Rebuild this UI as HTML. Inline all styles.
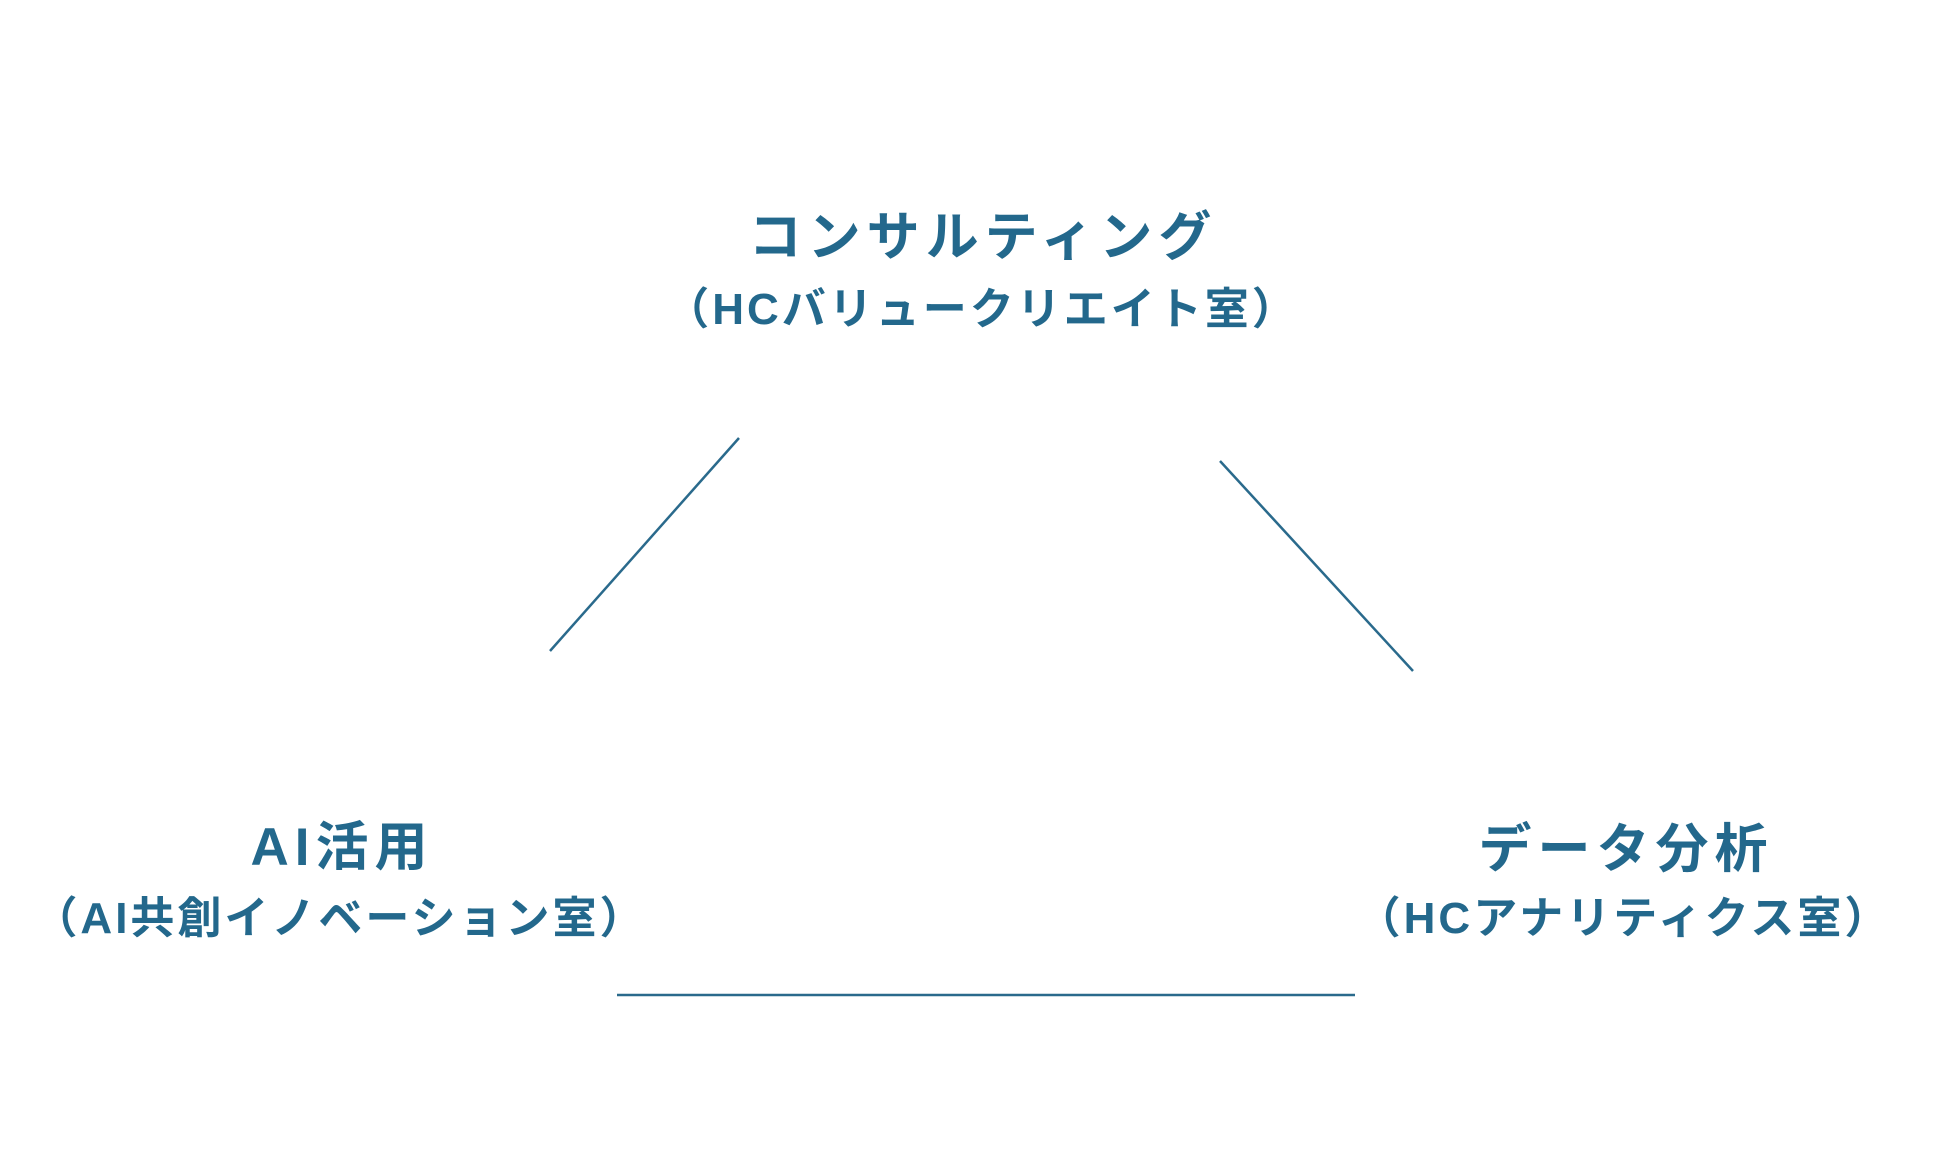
<!DOCTYPE html>
<html><head><meta charset="utf-8"><style>
html,body{margin:0;padding:0;background:#fff;width:1936px;height:1158px;overflow:hidden}
.t{position:absolute;transform:translate(-50%,-50%);white-space:nowrap;color:#23688c;font-weight:bold;font-family:"Liberation Sans","Noto Sans CJK JP",sans-serif;text-align:center}
.h{font-size:53px;letter-spacing:6px}
.s{font-size:44px;letter-spacing:3px}
</style></head><body>
<svg width="1936" height="1158" style="position:absolute;left:0;top:0">
<g stroke="#2a6a8c" stroke-width="2.5" fill="none">
<line x1="739" y1="438" x2="550" y2="651"/>
<line x1="1220" y1="461" x2="1413" y2="671"/>
<line x1="617" y1="995" x2="1355" y2="995"/>
</g></svg>
<div class="t h" style="left:983px;top:233px">コンサルティング</div>
<div class="t s" style="left:982px;top:305px">（HCバリュークリエイト室）</div>
<div class="t h" style="left:342px;top:843px">AI活用</div>
<div class="t s" style="left:340px;top:914px">（AI共創イノベーション室）</div>
<div class="t h" style="left:1626px;top:845px">データ分析</div>
<div class="t s" style="left:1624px;top:914px">（HCアナリティクス室）</div>
</body></html>
